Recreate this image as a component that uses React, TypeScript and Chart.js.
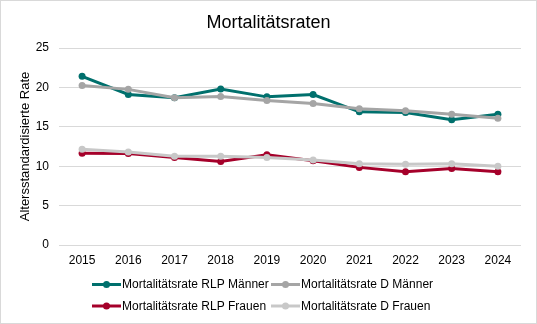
import React, { useEffect, useRef } from "react";
import { Chart, registerables } from "chart.js";

Chart.register(...registerables);

const years = ["2015", "2016", "2017", "2018", "2019", "2020", "2021", "2022", "2023", "2024"];
const rlpMaenner = [21.4, 19.1, 18.7, 19.8, 18.8, 19.1, 16.9, 16.8, 15.9, 16.6];
const dMaenner = [20.25, 19.75, 18.7, 18.85, 18.35, 17.95, 17.3, 17.05, 16.6, 16.1];
const rlpFrauen = [11.65, 11.6, 11.1, 10.6, 11.45, 10.7, 9.85, 9.3, 9.7, 9.3];
const dFrauen = [12.15, 11.8, 11.25, 11.25, 11.1, 10.8, 10.3, 10.25, 10.3, 10.0];
const seriesNames = [
  "Mortalitätsrate RLP Männer",
  "Mortalitätsrate D Männer",
  "Mortalitätsrate RLP Frauen",
  "Mortalitätsrate D Frauen",
];
const seriesColors = ["#00706D", "#A5A5A5", "#A5002A", "#C8C8C8"];
const chartTitle = "Mortalitätsraten";
const yTitle = "Altersstandardisierte Rate";

const FONT = "'Liberation Sans', Arial, sans-serif";

const decorPlugin = {
  id: "decor",
  afterDraw(chart: any) {
    const ctx = chart.ctx;
    ctx.save();
    // border
    ctx.strokeStyle = "#D9D9D9";
    ctx.lineWidth = 1;
    ctx.strokeRect(0.5, 0.5, chart.width - 1, chart.height - 1);
    // title
    ctx.fillStyle = "#000000";
    ctx.font = `18px ${FONT}`;
    ctx.textAlign = "center";
    ctx.textBaseline = "alphabetic";
    ctx.fillText(chartTitle, 268.5, 28);
    // legend
    const pos = [
      [92, 284.5],
      [271, 284.5],
      [92, 306],
      [271, 306],
    ];
    ctx.font = `12px ${FONT}`;
    ctx.textAlign = "left";
    ctx.textBaseline = "middle";
    seriesNames.forEach((name, i) => {
      const [x, y] = pos[i];
      ctx.strokeStyle = seriesColors[i];
      ctx.lineWidth = 3;
      ctx.beginPath();
      ctx.moveTo(x, y);
      ctx.lineTo(x + 29, y);
      ctx.stroke();
      ctx.fillStyle = seriesColors[i];
      ctx.beginPath();
      ctx.arc(x + 14.5, y, 3.5, 0, Math.PI * 2);
      ctx.fill();
      ctx.fillStyle = "#000000";
      ctx.fillText(name, x + 30, y + 0.5);
    });
    ctx.restore();
  },
};

export default function App() {
  const ref = useRef<HTMLCanvasElement>(null);
  useEffect(() => {
    document.body.style.margin = "0";
    const data = [rlpMaenner, dMaenner, rlpFrauen, dFrauen];
    const chart = new Chart(ref.current as HTMLCanvasElement, {
      type: "line",
      data: {
        labels: years,
        datasets: data.map((d, i) => ({
          label: seriesNames[i],
          data: d,
          borderColor: seriesColors[i],
          backgroundColor: seriesColors[i],
          borderWidth: 3,
          pointRadius: 3.5,
          pointHoverRadius: 3.5,
          pointBorderWidth: 0,
          tension: 0,
          order: 4 - i,
        })),
      },
      options: {
        responsive: false,
        animation: false,
        devicePixelRatio: 1,
        layout: { padding: { top: 48, left: 0, right: 16, bottom: 59 } },
        plugins: {
          legend: { display: false },
          title: { display: false },
          tooltip: { enabled: false },
        },
        scales: {
          x: {
            offset: true,
            grid: { display: false, drawTicks: false },
            border: { display: false },
            ticks: { color: "#000000", font: { family: FONT, size: 12 }, padding: 8, maxRotation: 0 },
            afterFit(scale: any) {
              scale.height = 20;
            },
          },
          y: {
            min: 0,
            max: 25,
            ticks: { stepSize: 5, color: "#000000", font: { family: FONT, size: 12 }, padding: 10 },
            grid: { color: "#D9D9D9", lineWidth: 1, drawTicks: false },
            border: { display: false },
            title: {
              display: true,
              text: yTitle,
              color: "#000000",
              font: { family: FONT, size: 13 },
              padding: { top: 18, bottom: 0 },
            },
            afterFit(scale: any) {
              scale.width = 59;
            },
          },
        },
      },
      plugins: [decorPlugin],
    });
    return () => chart.destroy();
  }, []);
  return (
    <div style={{ width: 537, height: 324 }}>
      <canvas ref={ref} width={537} height={324} style={{ display: "block", width: 537, height: 324 }} />
    </div>
  );
}
